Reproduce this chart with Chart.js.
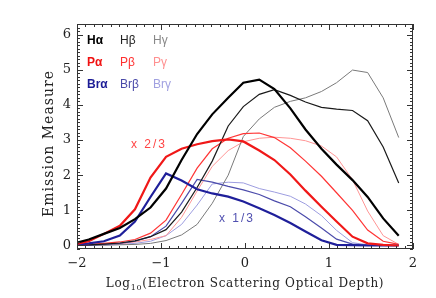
<!DOCTYPE html>
<html>
<head>
<meta charset="utf-8">
<script src="https://cdn.jsdelivr.net/npm/chart.js@4.4.0/dist/chart.umd.min.js"></script>
<style>
  html, body { margin: 0; padding: 0; background: #fff; }
</style>
</head>
<body>
<canvas id="grafico-emissao" width="436" height="298"></canvas>
<script>
// log10 of electron scattering optical depth (model grid)
const logTau = [-2.05, -1.86, -1.68, -1.49, -1.31, -1.125, -0.94, -0.755, -0.57, -0.39, -0.2,
  -0.02, 0.17, 0.35, 0.54, 0.72, 0.91, 1.09, 1.28, 1.46, 1.645, 1.83];

const hAlpha = [0.05, 0.17, 0.33, 0.5, 0.75, 1.08, 1.62, 2.43, 3.17, 3.73, 4.2, 4.63, 4.72, 4.45, 3.9, 3.3, 2.75, 2.3, 1.86, 1.38, 0.77, 0.28];
const hBeta = [0.01, 0.02, 0.04, 0.07, 0.13, 0.25, 0.45, 0.95, 1.65, 2.4, 3.4, 3.95, 4.3, 4.43, 4.27, 4.08, 3.93, 3.88, 3.84, 3.55, 2.8, 1.78];
const hGamma = [0, 0, 0.01, 0.02, 0.03, 0.06, 0.14, 0.3, 0.6, 1.2, 2.0, 3.1, 3.6, 3.93, 4.1, 4.2, 4.38, 4.63, 4.99, 4.92, 4.2, 3.07];
const pAlpha = [0.02, 0.12, 0.33, 0.56, 1.03, 1.93, 2.52, 2.75, 2.88, 2.97, 3.02, 2.96, 2.7, 2.43, 2.02, 1.56, 1.1, 0.68, 0.25, 0.06, 0.02, 0];
const pBeta = [0, 0.03, 0.06, 0.1, 0.17, 0.35, 0.72, 1.45, 2.2, 2.75, 3.05, 3.18, 3.2, 3.07, 2.78, 2.4, 1.97, 1.5, 1.0, 0.44, 0.12, 0.03];
const pGamma = [0, 0.01, 0.02, 0.05, 0.1, 0.17, 0.28, 0.8, 1.55, 2.25, 2.7, 2.95, 3.05, 3.08, 3.05, 2.98, 2.83, 2.52, 1.87, 0.98, 0.28, 0.03];
const brAlpha = [0.02, 0.06, 0.12, 0.28, 0.68, 1.38, 2.05, 1.85, 1.6, 1.48, 1.39, 1.25, 1.06, 0.87, 0.64, 0.4, 0.15, 0.02, 0.01, 0, 0, 0];
const brBeta = [0, 0.01, 0.03, 0.06, 0.12, 0.25, 0.55, 1.2, 1.88, 1.8, 1.68, 1.58, 1.45, 1.27, 1.1, 0.82, 0.5, 0.18, 0.04, 0.01, 0, 0];
const brGamma = [0, 0.01, 0.01, 0.03, 0.06, 0.12, 0.28, 0.6, 1.15, 1.75, 1.8, 1.78, 1.62, 1.52, 1.4, 1.18, 0.85, 0.43, 0.08, 0.02, 0, 0];

const xTicks = [-2, -1, 0, 1, 2];
const yTicks = [0, 1, 2, 3, 4, 5, 6];

function serie(valores, cor, largura) {
  return {
    data: logTau.map(function (x, i) { return { x: x, y: valores[i] }; }),
    borderColor: cor,
    borderWidth: largura,
    pointRadius: 0,
    showLine: true,
    fill: false,
    tension: 0
  };
}

// desenha a moldura, os ticks e os textos no estilo IDL
const molduraIDL = {
  id: 'molduraIDL',
  afterDraw: function (chart) {
    const ctx = chart.ctx;
    const a = chart.chartArea;
    const sx = chart.scales.x;
    const sy = chart.scales.y;
    ctx.save();
    ctx.strokeStyle = '#333';
    ctx.lineWidth = 1;
    ctx.strokeRect(a.left + 0.5, a.top + 0.5, a.right - a.left - 1, a.bottom - a.top - 1);

    ctx.beginPath();
    for (let k = -20; k <= 20; k++) {
      const v = k / 10;
      const px = Math.round(sx.getPixelForValue(v)) + 0.5;
      const len = (k % 10 === 0) ? 6 : 3;
      ctx.moveTo(px, a.bottom); ctx.lineTo(px, a.bottom - len);
      ctx.moveTo(px, a.top); ctx.lineTo(px, a.top + len);
    }
    for (let k = -1; k <= 63; k++) {
      const v = k / 10;
      const py = Math.round(sy.getPixelForValue(v)) + 0.5;
      const len = (k % 10 === 0) ? 6 : 3;
      ctx.moveTo(a.left, py); ctx.lineTo(a.left + len, py);
      ctx.moveTo(a.right, py); ctx.lineTo(a.right - len, py);
    }
    ctx.stroke();

    ctx.fillStyle = '#222';
    ctx.font = '13px "DejaVu Serif"';
    ctx.textAlign = 'center';
    ctx.textBaseline = 'middle';
    xTicks.forEach(function (t) {
      const txt = t < 0 ? '\u2212' + Math.abs(t) : String(t);
      ctx.fillText(txt, sx.getPixelForValue(t), a.bottom + 15);
    });
    ctx.textAlign = 'right';
    yTicks.forEach(function (t) {
      ctx.fillText(String(t), a.left - 6, sy.getPixelForValue(t));
    });

    // titulo do eixo x com subscrito
    ctx.letterSpacing = '0.7px';
    const p1 = 'Log', p3 = '(Electron Scattering Optical Depth)';
    ctx.font = '12px "DejaVu Serif"';
    const w1 = ctx.measureText(p1).width;
    const w3 = ctx.measureText(p3).width;
    ctx.font = '8px "DejaVu Serif"';
    const w2 = ctx.measureText('10').width;
    const total = w1 + w2 + w3;
    const x0 = (a.left + a.right) / 2 - total / 2;
    const yb = a.bottom + 38;
    ctx.textAlign = 'left';
    ctx.textBaseline = 'alphabetic';
    ctx.font = '12px "DejaVu Serif"';
    ctx.fillText(p1, x0, yb);
    ctx.font = '8px "DejaVu Serif"';
    ctx.fillText('10', x0 + w1, yb + 3);
    ctx.font = '12px "DejaVu Serif"';
    ctx.fillText(p3, x0 + w1 + w2, yb);

    // titulo do eixo y
    ctx.save();
    ctx.letterSpacing = '1px';
    ctx.translate(49, (a.top + a.bottom) / 2 + 7);
    ctx.rotate(-Math.PI / 2);
    ctx.textAlign = 'center';
    ctx.textBaseline = 'middle';
    ctx.font = '14px "DejaVu Serif"';
    ctx.fillText('Emission Measure', 0, 0);
    ctx.restore();
    ctx.letterSpacing = '0px';

    // legenda em texto
    const legenda = [
      ['H\u03b1', 87, 41, '#000', true], ['H\u03b2', 120, 41, '#222', false], ['H\u03b3', 153, 41, '#888', false],
      ['P\u03b1', 87, 63, '#f01010', true], ['P\u03b2', 120, 63, '#ff3030', false], ['P\u03b3', 153, 63, '#ff9090', false],
      ['Br\u03b1', 87, 85, '#1c1c96', true], ['Br\u03b2', 120, 85, '#4848a8', false], ['Br\u03b3', 153, 85, '#a0a0e0', false]
    ];
    ctx.textAlign = 'left';
    ctx.textBaseline = 'middle';
    legenda.forEach(function (l) {
      ctx.fillStyle = l[3];
      ctx.font = (l[4] ? 'bold ' : '') + '12px "Liberation Sans"';
      ctx.fillText(l[0], l[1], l[2]);
    });

    ctx.font = '12px "Liberation Sans"';
    ctx.letterSpacing = '2px';
    ctx.fillStyle = '#ff4545';
    ctx.fillText('x 2/3', 131, 145);
    ctx.fillStyle = '#5050b0';
    ctx.fillText('x 1/3', 219, 219);
    ctx.restore();
  }
};

const ctxEmissao = document.getElementById('grafico-emissao');
new Chart(ctxEmissao, {
  type: 'scatter',
  data: {
    datasets: [
      serie(hAlpha, '#000000', 2.2),
      serie(pAlpha, '#f01818', 2.2),
      serie(brAlpha, '#1f1f9a', 2.2),
      serie(hBeta, '#1a1a1a', 1.2),
      serie(pBeta, '#ff3535', 1.2),
      serie(brBeta, '#4b4bab', 1.2),
      serie(hGamma, '#7a7a7a', 1),
      serie(pGamma, '#ff9595', 1),
      serie(brGamma, '#9d9de0', 1)
    ]
  },
  options: {
    responsive: false,
    animation: false,
    layout: { padding: { left: 77, right: 23, top: 24, bottom: 49 } },
    plugins: {
      legend: { display: false },
      tooltip: { enabled: false }
    },
    scales: {
      x: { type: 'linear', min: -2, max: 2, display: false },
      y: { type: 'linear', min: -0.1, max: 6.3, display: false }
    }
  },
  plugins: [molduraIDL]
});
</script>
</body>
</html>
